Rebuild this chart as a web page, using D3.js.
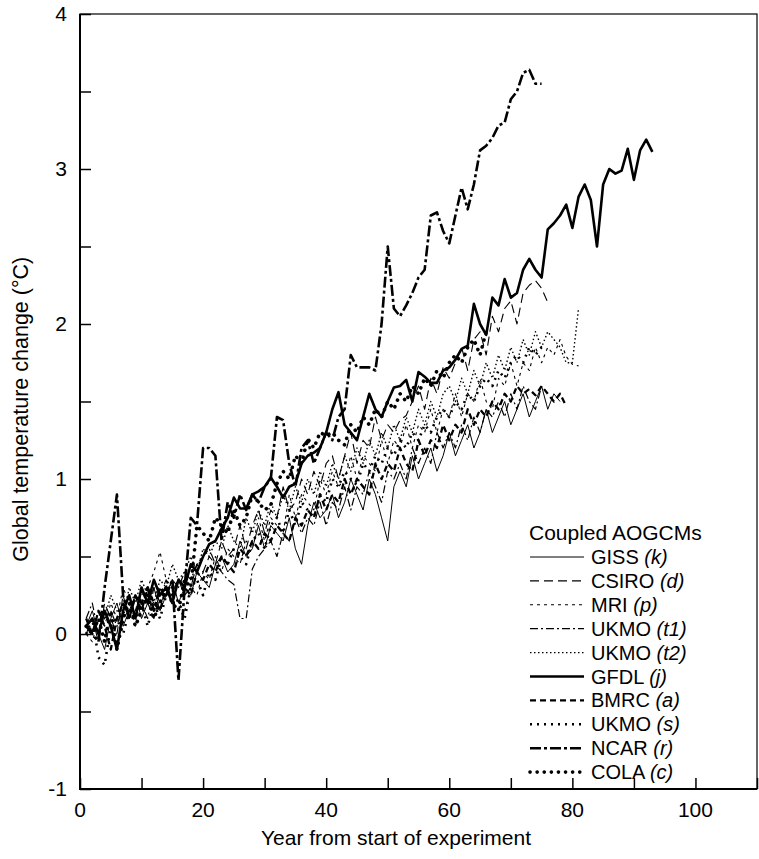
<!DOCTYPE html>
<html>
<head>
<meta charset="utf-8">
<script src="https://cdn.jsdelivr.net/npm/d3@7"></script>
<style>
  body { margin: 0; background: #fff; }
  svg { display: block; font-family: "Liberation Sans", Arial, sans-serif; }
</style>
</head>
<body>
<svg id="chart" width="759" height="859"></svg>
<script>
// yearly global mean warming per model, first value is year 1
const gissK = [0.05, 0.15, 0.0, -0.1, 0.1, 0.2, 0.05, 0.15, 0.25, 0.1, 0.2, 0.3, 0.15, 0.25, 0.35, 0.2, 0.3, 0.25, 0.4, 0.35,
  0.3, 0.45, 0.5, 0.4, 0.45, 0.6, 0.5, 0.55, 0.7, 0.55, 0.7, 0.65, 0.6, 0.75, 0.55, 0.45, 0.7, 0.85, 0.75, 0.8,
  0.9, 0.75, 0.85, 1.0, 0.9, 0.8, 1.0, 0.9, 0.75, 0.6, 0.95, 1.05, 0.95, 1.15, 1.0, 1.1, 1.2, 1.05, 1.15, 1.3,
  1.15, 1.25, 1.35, 1.2, 1.3, 1.45, 1.3, 1.4, 1.5, 1.35, 1.45, 1.55, 1.4, 1.5, 1.6, 1.45, 1.55, 1.5]
const csiroD = [0.0, 0.1, -0.05, 0.2, 0.1, 0.0, 0.25, 0.1, 0.15, 0.3, 0.2, 0.1, 0.25, 0.35, 0.2, 0.35, 0.25, 0.3, 0.45, 0.4,
  0.5, 0.45, 0.6, 0.5, 0.55, 0.7, 0.55, 0.7, 0.8, 0.65, 0.8, 0.75, 0.95, 0.8, 0.85, 1.0, 0.9, 1.05, 0.95, 1.1,
  1.15, 1.0, 1.15, 1.3, 1.1, 1.25, 1.2, 1.4, 1.25, 1.35, 1.3, 1.38, 1.41, 1.5, 1.6, 1.45, 1.65, 1.55, 1.72, 1.65,
  1.75, 1.85, 1.7, 1.9, 1.95, 1.8, 2.05, 1.95, 2.1, 2.15, 2.0, 2.2, 2.25, 2.28, 2.23, 2.14]
const mriP = [0.0, -0.05, 0.1, 0.05, 0.2, 0.1, 0.3, 0.2, 0.05, 0.25, 0.3, 0.4, 0.53, 0.35, 0.3, 0.2, 0.15, 0.3, 0.25, 0.4,
  0.35, 0.5, 0.4, 0.55, 0.5, 0.45, 0.6, 0.55, 0.75, 0.6, 0.75, 0.7, 0.65, 0.9, 0.75, 0.9, 0.85, 0.8, 1.0, 0.9,
  1.05, 0.95, 1.0, 1.15, 1.0, 1.15, 1.1, 1.05, 1.25, 1.1, 1.25, 1.2, 1.35, 1.2, 1.35, 1.3, 1.45, 1.3, 1.45, 1.4,
  1.55, 1.4, 1.55, 1.5, 1.65, 1.5, 1.45, 1.65, 1.6, 1.75, 1.6, 1.75, 1.7, 1.85, 1.75, 1.85, 1.8, 1.9, 1.79, 1.74, 1.73]
const ukmoT1 = [0.1, 0.2, 0.0, 0.1, 0.15, 0.05, 0.2, 0.1, 0.25, 0.2, 0.1, 0.3, 0.2, 0.25, 0.35, 0.3, 0.4, 0.35, 0.45, 0.5,
  0.55, 0.45, 0.4, 0.35, 0.32, 0.1, 0.1, 0.42, 0.5, 0.55, 0.6, 0.5, 0.65, 0.6, 0.75, 0.65, 0.75, 0.7, 0.85, 0.7,
  0.85, 0.8, 0.95, 0.8, 0.95, 0.9, 1.05, 0.95, 0.85, 1.05, 1.0, 1.1, 1.0, 1.2, 1.1, 1.2, 1.1, 1.3, 1.2, 1.3,
  1.2, 1.35, 1.25, 1.4, 1.3, 1.45, 1.4, 1.5, 1.4, 1.55, 1.45, 1.6, 1.5, 1.45, 1.6]
const ukmoT2 = [0.05, 0.0, 0.15, 0.1, 0.25, 0.15, 0.1, 0.3, 0.2, 0.35, 0.25, 0.2, 0.35, 0.3, 0.45, 0.35, 0.4, 0.5, 0.4, 0.55,
  0.5, 0.6, 0.55, 0.7, 0.6, 0.55, 0.75, 0.65, 0.8, 0.7, 0.85, 0.75, 0.9, 0.8, 0.95, 0.85, 1.0, 0.9, 1.05, 0.95,
  1.1, 1.0, 1.15, 1.05, 1.2, 1.1, 1.25, 1.15, 1.3, 1.2, 1.35, 1.25, 1.4, 1.3, 1.45, 1.35, 1.5, 1.4, 1.55, 1.6,
  1.5, 1.65, 1.55, 1.7, 1.6, 1.75, 1.65, 1.8, 1.7, 1.85, 1.75, 1.9, 1.8, 1.95, 1.85, 1.95, 1.9, 1.85, 1.75, 1.75, 2.1]
const gfdlJ = [0.05, 0.1, 0.0, 0.15, 0.05, -0.1, 0.15, 0.25, 0.1, 0.3, 0.2, 0.35, 0.25, 0.3, 0.2, 0.35, 0.3, 0.45, 0.4, 0.5,
  0.58, 0.6, 0.68, 0.75, 0.88, 0.81, 0.81, 0.9, 0.92, 0.95, 1.01, 0.95, 0.88, 0.95, 0.97, 1.1, 1.15, 1.17, 1.2, 1.3,
  1.45, 1.56, 1.35, 1.3, 1.25, 1.4, 1.55, 1.45, 1.4, 1.5, 1.59, 1.6, 1.64, 1.5, 1.69, 1.66, 1.62, 1.62, 1.7, 1.72,
  1.77, 1.84, 1.86, 2.13, 2.0, 1.93, 2.17, 2.12, 2.29, 2.17, 2.2, 2.35, 2.42, 2.35, 2.3, 2.61, 2.65, 2.7, 2.77, 2.62,
  2.82, 2.9, 2.8, 2.5, 2.9, 3.0, 2.97, 2.99, 3.13, 2.93, 3.12, 3.19, 3.11]
const bmrcA = [0.1, 0.0, 0.15, 0.05, -0.1, 0.1, 0.2, 0.1, 0.25, 0.15, 0.3, 0.2, 0.15, 0.3, 0.25, 0.35, 0.3, 0.25, 0.4, 0.35,
  0.45, 0.4, 0.5, 0.45, 0.4, 0.55, 0.5, 0.6, 0.55, 0.65, 0.6, 0.7, 0.65, 0.6, 0.75, 0.7, 0.8, 0.75, 0.9, 0.8,
  0.9, 0.85, 1.0, 0.9, 1.0, 0.95, 0.9, 1.1, 1.0, 1.1, 1.05, 1.2, 1.1, 1.05, 1.25, 1.15, 1.25, 1.2, 1.35, 1.25,
  1.35, 1.3, 1.45, 1.35, 1.45, 1.4, 1.5, 1.45, 1.55, 1.5, 1.6, 1.55, 1.58, 1.54, 1.6, 1.55, 1.5, 1.55, 1.47]
const ukmoS = [0.0, 0.1, -0.15, -0.2, 0.05, 0.1, 0.0, 0.15, 0.1, 0.2, 0.05, 0.2, 0.1, 0.25, 0.3, 0.2, 0.1, 0.3, 0.35, 0.25,
  0.4, 0.35, 0.5, 0.45, 0.55, 0.5, 0.45, 0.6, 0.65, 0.55, 0.7, 0.75, 0.65, 0.8, 0.7, 0.85, 0.8, 0.75, 0.9, 0.85,
  1.0, 0.95, 1.05, 1.0, 0.96, 1.1, 1.05, 1.15, 1.1, 1.2, 1.15, 1.25, 1.2, 1.3, 1.25, 1.35, 1.3, 1.4, 1.45, 1.4,
  1.5, 1.45, 1.55, 1.5, 1.6, 1.65, 1.6, 1.7, 1.65, 1.75, 1.8, 1.75, 1.85, 1.8, 1.85]
const ncarR = [0.05, 0.0, -0.05, 0.3, 0.6, 0.9, 0.25, 0.1, 0.25, 0.2, 0.3, 0.15, 0.3, 0.25, 0.35, -0.3, 0.3, 0.75, 0.7, 1.2,
  1.2, 1.15, 0.6, 0.85, 0.75, 0.9, 0.8, 0.9, 0.85, 0.95, 1.0, 1.4, 1.38, 1.1, 0.95, 1.2, 1.25, 1.1, 1.2, 1.3,
  1.25, 1.4, 1.45, 1.8, 1.72, 1.72, 1.72, 1.7, 2.0, 2.5, 2.1, 2.05, 2.12, 2.2, 2.3, 2.35, 2.7, 2.72, 2.6, 2.52,
  2.7, 2.88, 2.74, 2.9, 3.12, 3.15, 3.2, 3.28, 3.3, 3.45, 3.5, 3.62, 3.64, 3.55, 3.55]
const colaC = [0.05, 0.0, 0.1, -0.05, 0.15, -0.1, 0.1, 0.2, 0.05, 0.15, 0.25, 0.1, 0.2, 0.3, 0.2, 0.15, 0.35, 0.3, 0.7, 0.65,
  0.6, 0.75, 0.7, 0.65, 0.8, 0.7, 0.75, 0.9, 0.85, 0.8, 0.83, 0.97, 1.05, 1.0, 1.15, 1.1, 1.26, 1.2, 1.3, 1.28,
  1.3, 1.25, 1.22, 1.35, 1.3, 1.4, 1.35, 1.45, 1.4, 1.5, 1.45, 1.55, 1.5, 1.6, 1.55, 1.65, 1.6, 1.7, 1.65, 1.75,
  1.8, 1.75, 1.85, 1.9, 1.8, 1.95]

const modelNames = ["GISS", "CSIRO", "MRI", "UKMO", "UKMO", "GFDL", "BMRC", "UKMO", "NCAR", "COLA"]
const modelTags = ["(k)", "(d)", "(p)", "(t1)", "(t2)", "(j)", "(a)", "(s)", "(r)", "(c)"]
const modelSeries = [gissK, csiroD, mriP, ukmoT1, ukmoT2, gfdlJ, bmrcA, ukmoS, ncarR, colaC]

const xTicks = d3.range(0, 111, 10)
const xLabels = [0, 20, 40, 60, 80, 100]
const yTicks = d3.range(-1, 4.01, 0.5)
const yLabels = [-1, 0, 1, 2, 3, 4]

// line looks, same order as the models
const styles = [
  { w: 1, dash: null },
  { w: 1.1, dash: "9,5" },
  { w: 1.1, dash: "3,4" },
  { w: 1.2, dash: "8,3,2,3" },
  { w: 1.4, dash: "1.5,2.5" },
  { w: 2.6, dash: null },
  { w: 2.3, dash: "6,4" },
  { w: 2.6, dash: "2,5" },
  { w: 2.6, dash: "11,3,3,3" },
  { w: 3.6, dash: "0.1,7", cap: "round" },
]

const svg = d3.select("#chart")
const x = d3.scaleLinear().domain([0, 110]).range([80, 757])
const y = d3.scaleLinear().domain([-1, 4]).range([789, 14])

const line = d3.line()
  .x((d, i) => x(i + 1))
  .y(d => y(d))

// the model curves
svg.append("g")
  .selectAll("path")
  .data(modelSeries)
  .join("path")
    .attr("fill", "none")
    .attr("stroke", "#000")
    .attr("stroke-linejoin", "round")
    .attr("stroke-width", (d, i) => styles[i].w)
    .attr("stroke-dasharray", (d, i) => styles[i].dash)
    .attr("stroke-linecap", (d, i) => styles[i].cap || "butt")
    .attr("d", line)

// frame
svg.append("rect")
  .attr("x", x(0)).attr("y", y(4))
  .attr("width", x(110) - x(0)).attr("height", y(-1) - y(4))
  .attr("fill", "none").attr("stroke", "#000").attr("stroke-width", 1.2)
svg.append("path")
  .attr("d", `M${x(0)},${y(4)}V${y(-1)}H${x(110)}`)
  .attr("fill", "none").attr("stroke", "#000").attr("stroke-width", 2)

// inward ticks
const xAxis = d3.axisTop(x).tickValues(xTicks).tickSize(11).tickFormat("")
svg.append("g")
  .attr("transform", `translate(0,${y(-1)})`)
  .call(xAxis)
  .call(g => g.select(".domain").remove())
  .call(g => g.selectAll("line").attr("stroke-width", 1.5))

const yAxis = d3.axisRight(y).tickValues(yTicks).tickSize(11).tickFormat("")
svg.append("g")
  .attr("transform", `translate(${x(0)},0)`)
  .call(yAxis)
  .call(g => g.select(".domain").remove())
  .call(g => g.selectAll("line").attr("stroke-width", 1.5))

// tick labels
svg.append("g")
  .selectAll("text")
  .data(xLabels)
  .join("text")
    .attr("x", d => x(d))
    .attr("y", y(-1) + 28)
    .attr("text-anchor", "middle")
    .attr("font-size", 21)
    .text(d => d)

svg.append("g")
  .selectAll("text")
  .data(yLabels)
  .join("text")
    .attr("x", x(0) - 13)
    .attr("y", d => y(d) + 7)
    .attr("text-anchor", "end")
    .attr("font-size", 21)
    .text(d => d)

svg.append("text")
  .attr("x", 396)
  .attr("y", 845)
  .attr("text-anchor", "middle")
  .attr("font-size", 21)
  .text("Year from start of experiment")

svg.append("text")
  .attr("transform", `translate(28,${y(1.45)}) rotate(-90)`)
  .attr("text-anchor", "middle")
  .attr("font-size", 21.5)
  .text("Global temperature change (°C)")

// legend
const legend = svg.append("g").attr("transform", "translate(529,0)")
legend.append("text")
  .attr("x", 0).attr("y", 540)
  .attr("font-size", 21)
  .text("Coupled AOGCMs")

const items = legend.selectAll("g.item")
  .data(modelNames)
  .join("g")
    .attr("class", "item")
    .attr("transform", (d, i) => `translate(0,${557 + i * 23.9})`)

items.append("line")
  .attr("x1", 1).attr("x2", 55)
  .attr("stroke", "#000")
  .attr("stroke-width", (d, i) => styles[i].w)
  .attr("stroke-dasharray", (d, i) => styles[i].dash)
  .attr("stroke-linecap", (d, i) => styles[i].cap || "butt")

const labels = items.append("text")
  .attr("x", 62).attr("y", 7)
  .attr("font-size", 20)
labels.append("tspan").text(d => d + " ")
labels.append("tspan").attr("font-style", "italic").text((d, i) => modelTags[i])
</script>
</body>
</html>
